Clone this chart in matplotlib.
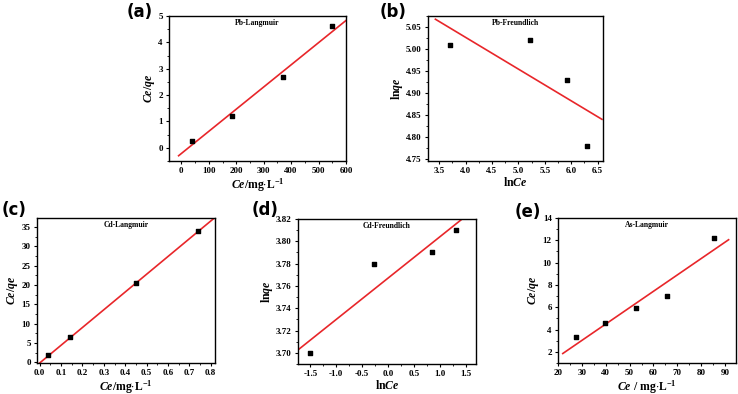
import numpy as np
import matplotlib
matplotlib.use("Agg")
import matplotlib.pyplot as plt
from matplotlib.ticker import AutoMinorLocator

plt.rcParams['font.family'] = ['Liberation Serif', 'DejaVu Serif']
plt.rcParams['font.weight'] = 'bold'
plt.rcParams['mathtext.fontset'] = 'custom'
plt.rcParams['mathtext.rm'] = 'Liberation Serif:bold'
plt.rcParams['mathtext.it'] = 'Liberation Serif:italic:bold'
plt.rcParams['mathtext.bf'] = 'Liberation Serif:bold'

# (a) Pb-Langmuir
pb_l_x = [40, 183, 372, 550]
pb_l_y = [0.27, 1.22, 2.68, 4.62]
pb_l_fit = (0.00841, -0.216)
pb_l_fit_x = [-10, 600]

# (b) Pb-Freundlich
pb_f_x = [3.70, 5.22, 5.92, 6.30]
pb_f_y = [5.01, 5.02, 4.93, 4.78]
pb_f_fit = (-0.0721, 5.315)
pb_f_fit_x = [3.43, 6.58]

# (c) Cd-Langmuir
cd_l_x = [0.04, 0.14, 0.45, 0.74]
cd_l_y = [1.8, 6.6, 20.5, 34.0]
cd_l_fit = (45.9, -0.2)
cd_l_fit_x = [0.0, 0.82]

# (d) Cd-Freundlich
cd_f_x = [-1.50, -0.28, 0.84, 1.32]
cd_f_y = [3.70, 3.78, 3.79, 3.81]
cd_f_fit = (0.037, 3.767)
cd_f_fit_x = [-1.74, 1.45]

# (e) As-Langmuir
as_l_x = [27.5, 39.5, 52.7, 65.8, 85.3]
as_l_y = [3.3, 4.6, 5.95, 7.0, 12.2]
as_l_fit = (0.1468, -1.38)
as_l_fit_x = [22, 91.5]

W, H = 738, 394
fig = plt.figure(figsize=(W / 100, H / 100), dpi=100)


def make_ax(x0, x1, y0, y1):
    return fig.add_axes([x0 / W, 1 - y1 / H, (x1 - x0) / W, (y1 - y0) / H])


def panel(ax, x, y, fit, fit_x, title, xlabel, ylabel, xlim, ylim, xticks, yticks, fmtx, fmty):
    ax.scatter(x, y, marker='s', s=9, color='black', zorder=3)
    fx = np.array(fit_x)
    ax.plot(fx, fit[0] * fx + fit[1], color='#e8262a', lw=1.2, zorder=2)
    ax.set_xlim(*xlim)
    ax.set_ylim(*ylim)
    ax.set_xticks(xticks)
    ax.set_yticks(yticks)
    ax.set_xticklabels([fmtx.format(v) for v in xticks])
    ax.set_yticklabels([fmty.format(v) for v in yticks])
    ax.xaxis.set_minor_locator(AutoMinorLocator(2))
    ax.yaxis.set_minor_locator(AutoMinorLocator(2))
    ax.tick_params(which='major', length=2.5, width=0.8, labelsize=6.5, pad=2)
    ax.tick_params(which='minor', length=1.5, width=0.6)
    for s in ax.spines.values():
        s.set_linewidth(1.0)
    ax.text(0.5, 0.95, title, transform=ax.transAxes, ha='center', va='center',
            fontsize=5.5, fontweight='bold')
    ax.set_xlabel(xlabel, fontsize=8.5, labelpad=0.5)
    ax.set_ylabel(ylabel, fontsize=8.5, labelpad=1)


lang_x = r'$\mathit{Ce}\mathrm{/mg{\cdot}L^{-1}}$'
lang_y = r'$\mathit{Ce/qe}$'
fr_x = r'$\mathrm{ln}\mathit{Ce}$'
fr_y = r'$\mathrm{ln}\mathit{qe}$'

ax = make_ax(169, 346, 16, 161)
panel(ax, pb_l_x, pb_l_y, pb_l_fit, pb_l_fit_x, 'Pb-Langmuir', lang_x, lang_y,
      (-45, 600), (-0.5, 5), [0, 100, 200, 300, 400, 500, 600], [0, 1, 2, 3, 4, 5], '{:g}', '{:g}')

ax = make_ax(428, 603, 16, 161)
panel(ax, pb_f_x, pb_f_y, pb_f_fit, pb_f_fit_x, 'Pb-Freundlich', fr_x, fr_y,
      (3.29, 6.6), (4.746, 5.075), [3.5, 4.0, 4.5, 5.0, 5.5, 6.0, 6.5],
      [4.75, 4.80, 4.85, 4.90, 4.95, 5.00, 5.05], '{:.1f}', '{:.2f}')

ax = make_ax(37, 215, 218, 363)
panel(ax, cd_l_x, cd_l_y, cd_l_fit, cd_l_fit_x, 'Cd-Langmuir', lang_x, lang_y,
      (-0.0125, 0.82), (-0.2, 37.3), [0, 0.1, 0.2, 0.3, 0.4, 0.5, 0.6, 0.7, 0.8],
      [0, 5, 10, 15, 20, 25, 30, 35], '{:.1f}', '{:g}')

ax = make_ax(298, 476, 219, 364)
panel(ax, cd_f_x, cd_f_y, cd_f_fit, cd_f_fit_x, 'Cd-Freundlich', fr_x, fr_y,
      (-1.74, 1.70), (3.69, 3.82), [-1.5, -1.0, -0.5, 0.0, 0.5, 1.0, 1.5],
      [3.70, 3.72, 3.74, 3.76, 3.78, 3.80, 3.82], '{:.1f}', '{:.2f}')

ax = make_ax(558, 736, 218, 363)
panel(ax, as_l_x, as_l_y, as_l_fit, as_l_fit_x, 'As-Langmuir',
      r'$\mathit{Ce}\mathrm{\ /\ mg{\cdot}L^{-1}}$', lang_y,
      (20, 94.6), (1.0, 14), [20, 30, 40, 50, 60, 70, 80, 90],
      [2, 4, 6, 8, 10, 12, 14], '{:g}', '{:g}')

letters = [('(a)', 127, 12), ('(b)', 380, 12), ('(c)', 2, 210), ('(d)', 252, 210), ('(e)', 515, 212)]
for txt, px, py in letters:
    fig.text(px / W, 1 - py / H, txt, fontsize=12, fontweight='bold',
             family=['DejaVu Sans'], ha='left', va='center')

fig.savefig('out.png', dpi=100)
